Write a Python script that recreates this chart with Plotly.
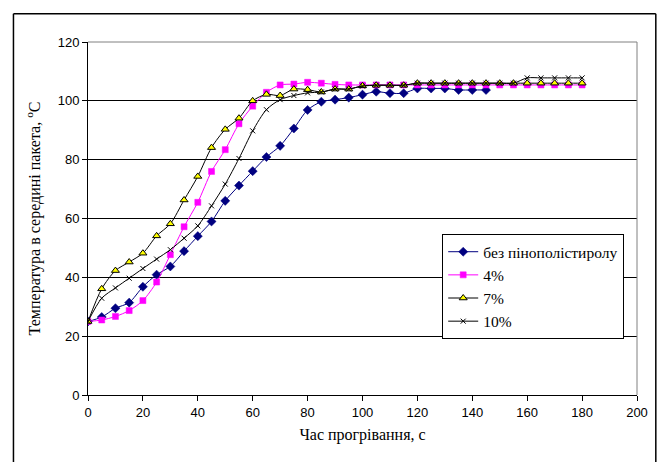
import plotly.graph_objects as go

# ---- data ----
time_all = [0, 5, 10, 15, 20, 25, 30, 35, 40, 45, 50, 55, 60, 65, 70, 75, 80, 85, 90,
            95, 100, 105, 110, 115, 120, 125, 130, 135, 140, 145, 150, 155, 160, 165,
            170, 175, 180]
time_none = time_all[:30]

temp_none = [25.0, 26.5, 29.5, 31.4, 36.8, 40.9, 43.7, 48.9, 54.0, 59.0, 66.0, 71.2,
             76.1, 80.9, 84.7, 90.6, 96.9, 99.7, 100.4, 101.1, 102.1, 103.1, 102.6,
             102.6, 104.2, 104.2, 104.2, 103.7, 103.7, 103.7]
temp_4 = [25.0, 25.5, 26.7, 28.7, 32.1, 38.4, 47.7, 57.2, 65.5, 76.0, 83.4, 92.2, 98.2,
          102.9, 105.4, 105.7, 106.3, 106.0, 105.6, 105.4, 105.4, 105.4, 105.4, 105.4,
          105.4, 105.4, 105.4, 105.4, 105.4, 105.4, 105.4, 105.4, 105.4, 105.4, 105.4,
          105.4, 105.4]
temp_7 = [25.0, 36.1, 42.3, 45.2, 48.2, 54.1, 58.2, 66.3, 74.3, 84.1, 90.3, 94.1, 100.0,
          102.2, 101.8, 104.0, 103.8, 103.0, 104.0, 104.0, 105.1, 105.3, 105.3, 105.3,
          106.0, 106.0, 106.0, 106.0, 106.0, 106.0, 106.0, 106.0, 106.0, 106.0, 106.0,
          106.0, 106.0]
temp_10 = [25.0, 32.9, 36.4, 39.7, 43.0, 46.2, 49.4, 53.3, 57.5, 64.3, 71.7, 80.4, 89.8,
           97.0, 100.4, 101.8, 102.7, 103.0, 104.0, 104.0, 105.0, 105.3, 105.3, 105.3,
           106.0, 106.0, 106.0, 106.0, 106.0, 106.0, 106.0, 106.0, 107.8, 107.8, 107.8,
           107.8, 107.8]

names = ["без пінополістиролу", "4%", "7%", "10%"]

# ---- layout geometry (pixels) ----
W, H = 658, 462
L, R, T, B = 88, 636.7, 41.7, 395
pw, ph = R - L, B - T


def px_x(x):
    return (x - L) / pw


def px_y(y):
    return (B - y) / ph


fig = go.Figure()
line_shape = dict(shape="spline", smoothing=0.8)

fig.add_trace(go.Scatter(
    x=time_none, y=temp_none, name=names[0], mode="lines+markers",
    line=dict(color="#000080", width=1, **line_shape),
    marker=dict(symbol="diamond", size=7, color="#000080",
                line=dict(color="#000080", width=0.5))))
fig.add_trace(go.Scatter(
    x=time_all, y=temp_4, name=names[1], mode="lines+markers",
    line=dict(color="#FF00FF", width=1, **line_shape),
    marker=dict(symbol="square", size=6, color="#FF00FF",
                line=dict(color="#FF00FF", width=0.5))))
fig.add_trace(go.Scatter(
    x=time_all, y=temp_7, name=names[2], mode="lines+markers",
    line=dict(color="#000000", width=1, **line_shape),
    marker=dict(symbol="triangle-up", size=7, color="#FFFF00",
                line=dict(color="#000000", width=1))))
fig.add_trace(go.Scatter(
    x=time_all, y=temp_10, name=names[3], mode="lines+markers",
    line=dict(color="#000000", width=1, **line_shape),
    marker=dict(symbol="x-thin", size=5, color="#000000",
                line=dict(color="#000000", width=1))))

tick_font = dict(family="Liberation Sans, Arial", size=13, color="#000000")
title_font = dict(family="Liberation Serif, Times New Roman", size=16, color="#000000")

fig.update_layout(
    width=W, height=H,
    margin=dict(l=L, r=W - R, t=T, b=H - B, pad=0, autoexpand=False),
    paper_bgcolor="white", plot_bgcolor="white",
    showlegend=True,
    legend=dict(
        x=px_x(442), y=px_y(234), xanchor="left", yanchor="top",
        bgcolor="white", bordercolor="#000000", borderwidth=1,
        font=dict(family="Liberation Serif, Times New Roman", size=15.5, color="#000000"),
        tracegroupgap=0, itemwidth=30,
    ),
    xaxis=dict(
        range=[0, 200], dtick=20, tick0=0, automargin=False,
        showgrid=False, zeroline=False,
        showline=True, linecolor="#000000", linewidth=1,
        ticks="outside", ticklen=5, tickcolor="#000000",
        tickfont=tick_font,
        title=dict(text="Час прогрівання, с", font=title_font, standoff=10),
    ),
    yaxis=dict(
        range=[0, 120], dtick=20, tick0=0, automargin=False,
        showgrid=True, gridcolor="#000000", gridwidth=1,
        zeroline=False,
        showline=True, linecolor="#000000", linewidth=1,
        ticks="outside", ticklen=5, tickcolor="#000000",
        tickfont=tick_font,
        title=dict(text="Температура в середині пакета, <sup>o</sup>C",
                   font=title_font, standoff=13),
    ),
    shapes=[
        # plot area border (top / right)
        dict(type="line", xref="paper", yref="paper", x0=0, x1=1, y0=1, y1=1,
             line=dict(color="#808080", width=1)),
        dict(type="line", xref="paper", yref="paper", x0=1, x1=1, y0=0, y1=1,
             line=dict(color="#808080", width=1)),
        # outer chart frame (left, top, right edges; bottom lies beyond the image)
        dict(type="line", xref="paper", yref="paper",
             x0=px_x(13.5), x1=px_x(13.5), y0=px_y(462), y1=px_y(13.5),
             line=dict(color="#000000", width=1.5)),
        dict(type="line", xref="paper", yref="paper",
             x0=px_x(13.5), x1=px_x(655.5), y0=px_y(13.5), y1=px_y(13.5),
             line=dict(color="#000000", width=1.5)),
        dict(type="line", xref="paper", yref="paper",
             x0=px_x(655.5), x1=px_x(655.5), y0=px_y(462), y1=px_y(13.5),
             line=dict(color="#000000", width=1.5)),
    ],
)

fig.write_html(
    "out.html",
    config={"displayModeBar": False},
    post_script="document.body.style.margin='0';document.body.style.padding='0';"
                "document.body.style.overflow='hidden';",
)
